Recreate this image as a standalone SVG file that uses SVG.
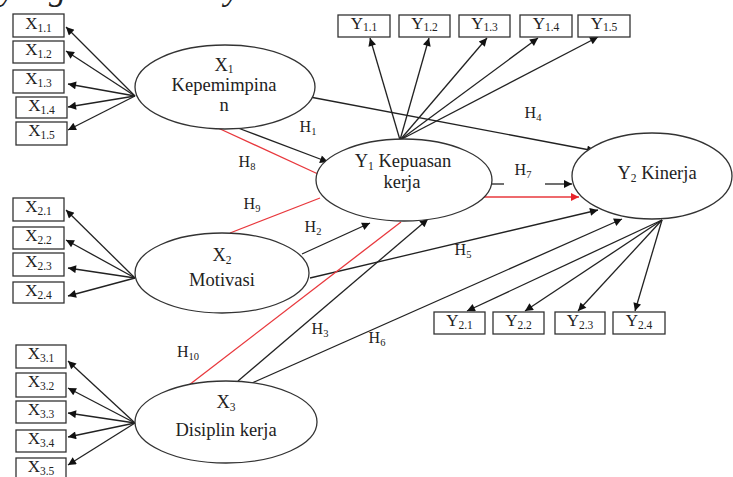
<svg xmlns="http://www.w3.org/2000/svg" width="733" height="477" viewBox="0 0 733 477">
<style>
text{font-family:'Liberation Serif','DejaVu Serif',serif;fill:#222}
.box rect{fill:#fff;stroke:#333;stroke-width:1.3}
.box text{font-size:17px;text-anchor:middle}
.sub{font-size:11.5px}
.node ellipse{fill:#fff;stroke:#333;stroke-width:1.3}
.node text{font-size:18.5px;text-anchor:middle}
.lbl{font-size:16px;text-anchor:middle}
.lbl .s{font-size:10.5px}
.c line{stroke:#222;stroke-width:1.3;fill:none}
.c line.r{stroke:#e8383d}
.c line.a{marker-end:url(#ah)}
.c line.ra{marker-end:url(#ahr)}
.hdr{font-size:34px;font-style:italic}
</style>
<defs>
<marker id="ah" viewBox="0 0 10 10" refX="10" refY="5" markerWidth="10" markerHeight="8" markerUnits="userSpaceOnUse" orient="auto"><path d="M0,0 L10,5 L0,10 z" fill="#111"/></marker>
<marker id="ahr" viewBox="0 0 10 10" refX="10" refY="5" markerWidth="10" markerHeight="8" markerUnits="userSpaceOnUse" orient="auto"><path d="M0,0 L10,5 L0,10 z" fill="#e8242b"/></marker>
</defs>
<g font-family="Liberation Serif, serif">
<text class="hdr" x="0" y="0">yang dihasilkan yaitu:</text>

<g class="c" id="connectors">
<line class="a" x1="135" y1="96" x2="66" y2="27"/>
<line class="a" x1="135" y1="96" x2="66" y2="51"/>
<line class="a" x1="135" y1="96" x2="68" y2="84"/>
<line class="a" x1="135" y1="96" x2="68" y2="107"/>
<line class="a" x1="135" y1="96" x2="68" y2="130"/>
<line class="a" x1="135" y1="278" x2="66" y2="210"/>
<line class="a" x1="135" y1="278" x2="66" y2="240"/>
<line class="a" x1="135" y1="278" x2="68" y2="268"/>
<line class="a" x1="135" y1="278" x2="68" y2="296"/>
<line class="a" x1="135" y1="423" x2="68" y2="361"/>
<line class="a" x1="135" y1="423" x2="68" y2="388"/>
<line class="a" x1="135" y1="423" x2="68" y2="413"/>
<line class="a" x1="135" y1="423" x2="68" y2="437"/>
<line class="a" x1="135" y1="423" x2="68" y2="465"/>
<line class="a" x1="400" y1="140" x2="370" y2="38"/>
<line class="a" x1="400" y1="140" x2="429" y2="38"/>
<line class="a" x1="400" y1="140" x2="487" y2="38"/>
<line class="a" x1="400" y1="140" x2="538" y2="38"/>
<line class="a" x1="400" y1="140" x2="598" y2="37"/>
<line class="a" x1="662" y1="220" x2="467" y2="311"/>
<line class="a" x1="662" y1="220" x2="525" y2="311"/>
<line class="a" x1="662" y1="220" x2="578" y2="311"/>
<line class="a" x1="662" y1="220" x2="635" y2="311"/>
<line class="a" x1="238" y1="128" x2="328" y2="162"/>
<line class="r" x1="218" y1="128" x2="318" y2="174"/>
<line class="r" x1="230" y1="233" x2="320" y2="198"/>
<line class="a" x1="302" y1="254" x2="370" y2="223"/>
<line class="a" x1="310" y1="278" x2="598" y2="210"/>
<line class="a" x1="238" y1="381" x2="428" y2="219"/>
<line class="r" x1="189" y1="385" x2="401" y2="222"/>
<line class="a" x1="252" y1="383" x2="622" y2="219"/>
<line class="a" x1="310" y1="97" x2="595" y2="151"/>
<line x1="492" y1="184" x2="504" y2="184"/>
<line class="a" x1="545" y1="184" x2="572" y2="184"/>
<line class="r ra" x1="483" y1="197" x2="579" y2="197"/>
</g>

<g class="box" id="X1_1"><rect x="13" y="14" width="51" height="23"/><text x="38.5" y="29">X<tspan class="sub" dy="3">1.1</tspan></text></g>
<g class="box" id="X1_2"><rect x="13" y="41" width="51" height="22"/><text x="38.5" y="55">X<tspan class="sub" dy="3">1.2</tspan></text></g>
<g class="box" id="X1_3"><rect x="13" y="70" width="51" height="23"/><text x="38.5" y="84">X<tspan class="sub" dy="3">1.3</tspan></text></g>
<g class="box" id="X1_4"><rect x="16" y="97" width="51" height="21"/><text x="41.5" y="111">X<tspan class="sub" dy="3">1.4</tspan></text></g>
<g class="box" id="X1_5"><rect x="16" y="122" width="51" height="23"/><text x="41.5" y="136">X<tspan class="sub" dy="3">1.5</tspan></text></g>

<g class="box" id="X2_1"><rect x="13" y="198" width="51" height="23"/><text x="38.5" y="212">X<tspan class="sub" dy="3">2.1</tspan></text></g>
<g class="box" id="X2_2"><rect x="13" y="227" width="51" height="22"/><text x="38.5" y="241">X<tspan class="sub" dy="3">2.2</tspan></text></g>
<g class="box" id="X2_3"><rect x="13" y="253" width="51" height="23"/><text x="38.5" y="267">X<tspan class="sub" dy="3">2.3</tspan></text></g>
<g class="box" id="X2_4"><rect x="13" y="282" width="51" height="21"/><text x="38.5" y="296">X<tspan class="sub" dy="3">2.4</tspan></text></g>

<g class="box" id="X3_1"><rect x="16" y="345" width="50" height="23"/><text x="41" y="359">X<tspan class="sub" dy="3">3.1</tspan></text></g>
<g class="box" id="X3_2"><rect x="16" y="373" width="50" height="24"/><text x="41" y="387">X<tspan class="sub" dy="3">3.2</tspan></text></g>
<g class="box" id="X3_3"><rect x="16" y="401" width="50" height="22"/><text x="41" y="415">X<tspan class="sub" dy="3">3.3</tspan></text></g>
<g class="box" id="X3_4"><rect x="16" y="430" width="50" height="22"/><text x="41" y="444">X<tspan class="sub" dy="3">3.4</tspan></text></g>
<g class="box" id="X3_5"><rect x="16" y="458" width="50" height="24"/><text x="41" y="472">X<tspan class="sub" dy="3">3.5</tspan></text></g>

<g class="box" id="Y1_1"><rect x="338" y="15" width="52" height="22"/><text x="364" y="29">Y<tspan class="sub" dy="2">1.1</tspan></text></g>
<g class="box" id="Y1_2"><rect x="399" y="15" width="51" height="22"/><text x="424.5" y="29">Y<tspan class="sub" dy="2">1.2</tspan></text></g>
<g class="box" id="Y1_3"><rect x="459" y="15" width="51" height="22"/><text x="484.5" y="29">Y<tspan class="sub" dy="2">1.3</tspan></text></g>
<g class="box" id="Y1_4"><rect x="520" y="15" width="52" height="22"/><text x="546" y="29">Y<tspan class="sub" dy="2">1.4</tspan></text></g>
<g class="box" id="Y1_5"><rect x="578" y="15" width="52" height="22"/><text x="604" y="29">Y<tspan class="sub" dy="2">1.5</tspan></text></g>

<g class="box" id="Y2_1"><rect x="434" y="312" width="51" height="22"/><text x="459.5" y="326">Y<tspan class="sub" dy="3">2.1</tspan></text></g>
<g class="box" id="Y2_2"><rect x="493" y="312" width="51" height="22"/><text x="518.5" y="326">Y<tspan class="sub" dy="3">2.2</tspan></text></g>
<g class="box" id="Y2_3"><rect x="555" y="312" width="50" height="22"/><text x="580" y="326">Y<tspan class="sub" dy="3">2.3</tspan></text></g>
<g class="box" id="Y2_4"><rect x="613" y="312" width="52" height="22"/><text x="639" y="326">Y<tspan class="sub" dy="3">2.4</tspan></text></g>

<g class="node" id="X1"><ellipse cx="225" cy="87" rx="90" ry="42"/><text x="224" y="71">X<tspan class="sub" dy="2">1</tspan></text><text x="224" y="91">Kepemimpina</text><text x="224" y="111">n</text></g>
<g class="node" id="X2"><ellipse cx="222" cy="273" rx="87" ry="40"/><text x="222" y="261">X<tspan class="sub" dy="3">2</tspan></text><text x="222" y="286">Motivasi</text></g>
<g class="node" id="X3"><ellipse cx="226" cy="422" rx="91" ry="41"/><text x="226" y="408">X<tspan class="sub" dy="3">3</tspan></text><text x="226" y="436">Disiplin kerja</text></g>
<g class="node" id="Y1"><ellipse cx="404" cy="180" rx="88" ry="41"/><text x="403" y="167">Y<tspan class="sub" dy="3">1</tspan><tspan dy="-3"> Kepuasan</tspan></text><text x="402" y="188">kerja</text></g>
<g class="node" id="Y2"><ellipse cx="652" cy="176" rx="80" ry="43"/><text x="657" y="179">Y<tspan class="sub" dy="3">2</tspan><tspan dy="-3"> Kinerja</tspan></text></g>

<g id="labels">
<text class="lbl" x="308" y="132">H<tspan class="s" dy="3">1</tspan></text>
<text class="lbl" x="247" y="167">H<tspan class="s" dy="3">8</tspan></text>
<text class="lbl" x="252" y="209">H<tspan class="s" dy="3">9</tspan></text>
<text class="lbl" x="313" y="232">H<tspan class="s" dy="3">2</tspan></text>
<text class="lbl" x="463" y="255">H<tspan class="s" dy="3">5</tspan></text>
<text class="lbl" x="320" y="334">H<tspan class="s" dy="3">3</tspan></text>
<text class="lbl" x="377" y="343">H<tspan class="s" dy="3">6</tspan></text>
<text class="lbl" x="188" y="357">H<tspan class="s" dy="3">10</tspan></text>
<text class="lbl" x="533" y="118">H<tspan class="s" dy="3">4</tspan></text>
<text class="lbl" x="523" y="175">H<tspan class="s" dy="3">7</tspan></text>
</g>
</g>
</svg>
